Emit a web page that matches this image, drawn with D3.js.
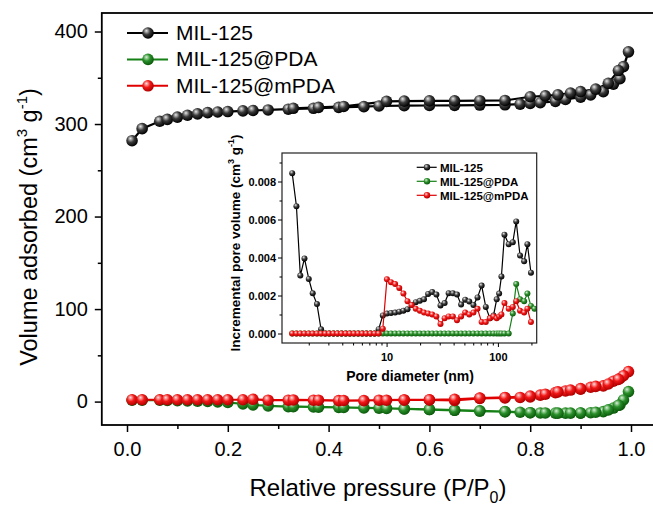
<!DOCTYPE html>
<html>
<head>
<meta charset="utf-8">
<script src="https://cdn.jsdelivr.net/npm/d3@7"></script>
<style>
  body { margin: 0; background: #fff; }
  text { font-family: "Liberation Sans", Arial, sans-serif; }
</style>
</head>
<body>
<script>
// ---- main isotherm data (relative pressure vs volume adsorbed) ----
const pAds = [0.01, 0.03, 0.065, 0.08, 0.10, 0.12, 0.14, 0.16, 0.18, 0.20, 0.23, 0.25, 0.28, 0.32, 0.37, 0.42, 0.47,
              0.50, 0.55, 0.60, 0.65, 0.70, 0.75, 0.78, 0.80, 0.82, 0.85, 0.87, 0.90, 0.92, 0.945, 0.965, 0.978, 0.995];
const pDes = [0.985, 0.975, 0.955, 0.93, 0.90, 0.88, 0.855, 0.83, 0.80, 0.75, 0.70, 0.65, 0.60, 0.55, 0.515, 0.43, 0.38, 0.33];

const milAds = [282, 295, 303, 305, 307.5, 309.5, 311, 312.3, 313, 313.5, 314.2, 314.6, 315.2, 316, 317, 318, 318.8,
                319.5, 319.8, 320, 320.2, 320.5, 320.8, 321.5, 322.3, 323, 324.5, 326.5, 329, 331.5, 335, 343, 349, 378];
const milDes = [362, 357.8, 344, 337.7, 335, 333.4, 331.6, 330.5, 329.5, 325.5, 325.2, 325, 325, 324.8, 324.5, 319, 318, 317];

const pdaAds = [1.5, 1.5, 1.5, 1.2, 1, 0.8, 0.5, 0.2, -0.3, -1, -2.5, -3.6, -4.6, -5.4, -5.8, -6.2, -6.8,
                -7.1, -7.8, -8.5, -9.2, -10, -10.8, -11.5, -12, -12.3, -12.5, -12.5, -12.5, -12, -10.8, -7, -3.6, 10.8];
const pdaDes = [1.8, -4, -9, -11.5, -12.3, -12.5, -12.5, -12.3, -12, -11, -10.2, -9.4, -8.6, -8, -7.4, -6.4, -6, -5.5];

const mpdaAds = [2, 2, 2, 2, 2, 2, 2, 2, 2, 2, 2, 2.5, 1.5, 1.5, 1.5, 1, 1,
                 1.5, 1.8, 1.8, 1.2, 3.5, 4, 4.5, 5, 7, 9.7, 11.5, 13.4, 15.5, 17, 22, 25, 32.4];
const mpdaDes = [28, 24, 19, 16.5, 14, 12.5, 10.5, 8, 6, 4.5, 3.7, 2.5, 2, 1.8, 1.5, 1.2, 1.5, 1.8];

const xTicks = [0, 0.2, 0.4, 0.6, 0.8, 1.0];
const xMinor = [0.1, 0.3, 0.5, 0.7, 0.9];
const yTicks = [0, 100, 200, 300, 400];
const yMinor = [50, 150, 250, 350];

// ---- inset: pore size distribution ----
const poreD = [1.42, 1.55, 1.68, 1.83, 2.00, 2.17, 2.37, 2.58, 2.81, 3.05, 3.33, 3.62, 3.94, 4.30, 4.68, 5.09,
               5.55, 6.04, 6.58, 7.16, 7.80, 8.49, 9.25, 10.07, 10.96, 11.94, 13.0, 14.16, 15.42, 16.79, 18.28, 19.91,
               21.68, 23.6, 25.7, 28.0, 30.5, 33.2, 36.1, 39.4, 42.9, 46.7, 50.8, 55.3, 60.3, 65.6, 71.4, 77.8,
               84.7, 91.3, 97.5, 102.5, 107.5, 114.5, 125, 136, 146, 158, 172, 184, 198, 213];
const psdMil = [0.00844, 0.0067, 0.00305, 0.00395, 0.00287, 0.00212, 0.00155, 0.00022, 0, 0, 0, 0, 0, 0, 0, 0,
                0, 0, 0, 0, 0, 0.00023, 0.00095, 0.00105, 0.00108, 0.0011, 0.00115, 0.0012, 0.00128, 0.0015, 0.00165, 0.00172,
                0.0018, 0.00208, 0.00218, 0.00205, 0.00148, 0.0016, 0.00212, 0.00212, 0.00205, 0.00152, 0.00178, 0.00168, 0.0015, 0.0019, 0.00252, 0.0014,
                0.0008, 0.00095, 0.0018, 0.0021, 0.003, 0.0052, 0.0047, 0.0048, 0.0059, 0.0041, 0.0038, 0.0047, 0.0032, null];
const psdPda = [0, 0, 0, 0, 0, 0, 0, 0, 0, 0, 0, 0, 0, 0, 0, 0,
                0, 0, 0, 0, 0, 0, 0, 0, 0, 0, 0, 0, 0, 0, 0, 0,
                0, 0, 0, 0, 0, 0, 0, 0, 0, 0, 0, 0, 0, 0, 0, 0,
                0, 0, 0, 0, 0, 0, 0, 0.00105, 0.0026, 0.0018, 0.0017, 0.0021, 0.00145, 0.0013];
const psdMpda = [0, 0, 0, 0, 0, 0, 0, 0, 0, 0, 0, 0, 0, 0, 0, 0,
                 0, 0, 0, 0, 0, 0, 0.00025, 0.00285, 0.0027, 0.0026, 0.0024, 0.0021, 0.0017, 0.0015, 0.0013, 0.0012,
                 0.0011, 0.00105, 0.001, 0.0009, 0.0005, 0.0008, 0.0009, 0.0009, 0.0007, 0.0009, 0.0011, 0.001, 0.0011, 0.0013, 0.0006, 0.0006,
                 0.0008, 0.0009, 0.0008, 0.0009, 0.001, 0.0016, 0.0013, 0.0014, 0.0017, 0.0012, 0.0011, 0.0013, 0.0006, null];

const insetYTicks = [0, 0.002, 0.004, 0.006, 0.008];
const insetYMinor = [0.001, 0.003, 0.005, 0.007, 0.009];
const insetXTicks = [10, 100];
const insetXMinor = [2, 3, 4, 5, 6, 7, 8, 9, 20, 30, 40, 50, 60, 70, 80, 90, 200];

const names = ["MIL-125", "MIL-125@PDA", "MIL-125@mPDA"];
const lineColors = ["#000000", "#158015", "#e00000"];

const w = 653, h = 506;

const svg = d3.select("body").append("svg")
  .attr("width", w)
  .attr("height", h);

// shiny ball gradients
const defs = svg.append("defs");
const grads = [["ballK", "#e8e8e8", "#3a3a3a", "#000"],
               ["ballG", "#d8f0d8", "#2a8f2a", "#0b5a0b"],
               ["ballR", "#ffe0e0", "#f21818", "#b00000"]];
grads.forEach(g => {
  const rg = defs.append("radialGradient").attr("id", g[0])
    .attr("cx", "40%").attr("cy", "38%").attr("r", "62%")
    .attr("fx", "36%").attr("fy", "30%");
  rg.append("stop").attr("offset", "0%").attr("stop-color", g[1]);
  rg.append("stop").attr("offset", "50%").attr("stop-color", g[2]);
  rg.append("stop").attr("offset", "100%").attr("stop-color", g[3]);
});
const ballIds = ["ballK", "ballG", "ballR"];

// ---- main plot ----
const mL = 101.8, mR = 656.2, mT = 13, mB = 425;

const x = d3.scaleLinear().domain([-0.05, 1.05]).range([mL, mR]);
const y = d3.scaleLinear().domain([-25.3, 420]).range([mB, mT]);

const series = [
  pAds.map((p, i) => [p, milAds[i]]).concat(pDes.map((p, i) => [p, milDes[i]])),
  pAds.map((p, i) => [p, pdaAds[i]]).concat(pDes.map((p, i) => [p, pdaDes[i]])),
  pAds.map((p, i) => [p, mpdaAds[i]]).concat(pDes.map((p, i) => [p, mpdaDes[i]]))
];

const line = d3.line().x(d => x(d[0])).y(d => y(d[1]));

series.forEach((s, k) => {
  const g = svg.append("g");
  g.append("path")
    .datum(s)
    .attr("d", line)
    .attr("fill", "none")
    .attr("stroke", lineColors[k])
    .attr("stroke-width", 2.2);
  g.selectAll("circle")
    .data(s)
    .enter()
    .append("circle")
    .attr("cx", d => x(d[0]))
    .attr("cy", d => y(d[1]))
    .attr("r", 5.8)
    .attr("fill", "url(#" + ballIds[k] + ")");
});

// frame
svg.append("rect")
  .attr("x", mL).attr("y", mT)
  .attr("width", mR - mL).attr("height", mB - mT)
  .attr("fill", "none").attr("stroke", "#000").attr("stroke-width", 1.8);

// axes
function styleAxis(sel, size) {
  sel.select(".domain").remove();
  sel.selectAll(".tick line").attr("stroke", "#000").attr("stroke-width", 1.5);
  sel.selectAll(".tick text").attr("fill", "#000").attr("font-size", size)
    .attr("font-family", "'Liberation Sans', Arial, sans-serif");
}

svg.append("g")
  .attr("transform", "translate(" + mL + ",0)")
  .call(d3.axisLeft(y).tickValues(yTicks).tickSize(7).tickPadding(7).tickFormat(d3.format("d")))
  .call(styleAxis, 20);
svg.append("g")
  .attr("transform", "translate(" + mL + ",0)")
  .call(d3.axisLeft(y).tickValues(yMinor).tickSize(4).tickFormat(""))
  .call(styleAxis, 0);

svg.append("g")
  .attr("transform", "translate(0," + mB + ")")
  .call(d3.axisBottom(x).tickValues(xTicks).tickSize(7).tickPadding(10).tickFormat(d3.format(".1f")))
  .call(styleAxis, 20);
svg.append("g")
  .attr("transform", "translate(0," + mB + ")")
  .call(d3.axisBottom(x).tickValues(xMinor).tickSize(4).tickFormat(""))
  .call(styleAxis, 0);

// axis titles
const xt = svg.append("text")
  .attr("x", 378).attr("y", 496)
  .attr("text-anchor", "middle")
  .attr("font-size", 24);
xt.append("tspan").text("Relative pressure (P/P");
xt.append("tspan").attr("font-size", 16).attr("dy", 7).text("0");
xt.append("tspan").attr("dy", -7).text(")");

const yt = svg.append("text")
  .attr("transform", "translate(37,227) rotate(-90)")
  .attr("text-anchor", "middle")
  .attr("font-size", 23.5);
yt.append("tspan").text("Volume adsorbed (cm");
yt.append("tspan").attr("font-size", 15).attr("dy", -10).text("3");
yt.append("tspan").attr("dy", 10).text(" g");
yt.append("tspan").attr("font-size", 15).attr("dy", -10).text("-1");
yt.append("tspan").attr("dy", 10).text(")");

// main legend
names.forEach((n, k) => {
  const by = 40 + k * 26.4;
  svg.append("line")
    .attr("x1", 127).attr("x2", 168)
    .attr("y1", by - 7).attr("y2", by - 7)
    .attr("stroke", lineColors[k]).attr("stroke-width", 2);
  svg.append("circle")
    .attr("cx", 148).attr("cy", by - 7).attr("r", 5.8)
    .attr("fill", "url(#" + ballIds[k] + ")");
  svg.append("text")
    .attr("x", 176).attr("y", by)
    .attr("font-size", 21)
    .text(n);
});

// ---- inset ----
const iL = 282, iR = 536.7, iT = 153, iB = 343;

const xi = d3.scaleLog().domain([1.15, 223]).range([iL, iR]);
const yi = d3.scaleLinear().domain([-0.0005, 0.0095]).range([iB, iT]);

svg.append("rect")
  .attr("x", iL).attr("y", iT)
  .attr("width", iR - iL).attr("height", iB - iT)
  .attr("fill", "#fff");

defs.append("clipPath").attr("id", "insetClip")
  .append("rect")
  .attr("x", iL).attr("y", iT)
  .attr("width", iR - iL).attr("height", iB - iT);

const psd = [psdMil, psdPda, psdMpda];
const iline = d3.line()
  .defined(d => d[1] !== null)
  .x(d => xi(d[0]))
  .y(d => yi(d[1]));

const ig = svg.append("g").attr("clip-path", "url(#insetClip)");
psd.forEach((vals, k) => {
  const s = poreD.map((d, i) => [d, vals[i]]);
  ig.append("path")
    .datum(s)
    .attr("d", iline)
    .attr("fill", "none")
    .attr("stroke", lineColors[k])
    .attr("stroke-width", 1.2);
  ig.selectAll(null)
    .data(s.filter(d => d[1] !== null))
    .enter()
    .append("circle")
    .attr("cx", d => xi(d[0]))
    .attr("cy", d => yi(d[1]))
    .attr("r", 3)
    .attr("fill", "url(#" + ballIds[k] + ")");
});

svg.append("rect")
  .attr("x", iL).attr("y", iT)
  .attr("width", iR - iL).attr("height", iB - iT)
  .attr("fill", "none").attr("stroke", "#222").attr("stroke-width", 1.2);

function styleInset(sel) {
  sel.select(".domain").remove();
  sel.selectAll(".tick line").attr("stroke", "#000").attr("stroke-width", 1);
  sel.selectAll(".tick text").attr("fill", "#000").attr("font-size", 11)
    .attr("font-weight", "bold")
    .attr("font-family", "'Liberation Sans', Arial, sans-serif");
}

svg.append("g")
  .attr("transform", "translate(" + iL + ",0)")
  .call(d3.axisLeft(yi).tickValues(insetYTicks).tickSize(4).tickPadding(2).tickFormat(d3.format(".3f")))
  .call(styleInset);
svg.append("g")
  .attr("transform", "translate(" + iL + ",0)")
  .call(d3.axisLeft(yi).tickValues(insetYMinor).tickSize(2.5).tickFormat(""))
  .call(styleInset);
svg.append("g")
  .attr("transform", "translate(0," + iB + ")")
  .call(d3.axisBottom(xi).tickValues(insetXTicks).tickSize(4).tickPadding(6).tickFormat(d3.format("d")))
  .call(styleInset);
svg.append("g")
  .attr("transform", "translate(0," + iB + ")")
  .call(d3.axisBottom(xi).tickValues(insetXMinor).tickSize(2.5).tickFormat(""))
  .call(styleInset);

svg.append("text")
  .attr("x", 410).attr("y", 381)
  .attr("text-anchor", "middle")
  .attr("font-size", 14).attr("font-weight", "bold")
  .text("Pore diameter (nm)");

const iyt = svg.append("text")
  .attr("transform", "translate(240,243) rotate(-90)")
  .attr("text-anchor", "middle")
  .attr("font-size", 13.5).attr("font-weight", "bold");
iyt.append("tspan").text("Incremental pore volume (cm");
iyt.append("tspan").attr("font-size", 9).attr("dy", -6).text("3");
iyt.append("tspan").attr("dy", 6).text(" g");
iyt.append("tspan").attr("font-size", 9).attr("dy", -6).text("-1");
iyt.append("tspan").attr("dy", 6).text(")");

// inset legend
names.forEach((n, k) => {
  const ly = 167.3 + k * 14;
  svg.append("line")
    .attr("x1", 416.7).attr("x2", 436.7)
    .attr("y1", ly).attr("y2", ly)
    .attr("stroke", lineColors[k]).attr("stroke-width", 1.2);
  svg.append("circle")
    .attr("cx", 427).attr("cy", ly).attr("r", 3.2)
    .attr("fill", "url(#" + ballIds[k] + ")");
  svg.append("text")
    .attr("x", 440).attr("y", ly + 4.2)
    .attr("font-size", 11.5).attr("font-weight", "bold")
    .text(n);
});
</script>
</body>
</html>
